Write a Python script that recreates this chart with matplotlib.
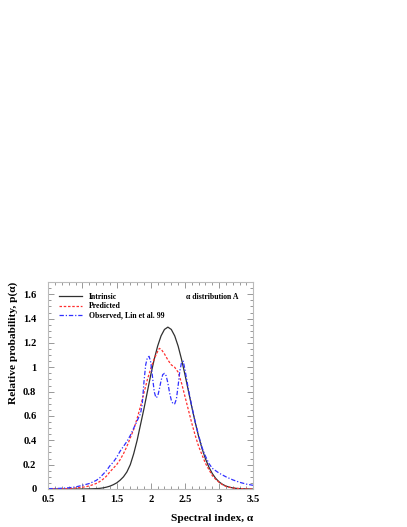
import matplotlib
matplotlib.use("Agg")
import matplotlib.pyplot as plt
from matplotlib.ticker import MultipleLocator, FixedLocator

# ---- data ----
x_intr = [0.5, 1.0, 1.1, 1.15, 1.2, 1.25, 1.3, 1.35, 1.4, 1.45, 1.5, 1.55, 1.6, 1.65, 1.7, 1.75,
          1.8, 1.85, 1.9, 1.95, 2.0, 2.05, 2.1, 2.15, 2.2, 2.25, 2.3, 2.35, 2.4, 2.45, 2.5,
          2.55, 2.6, 2.65, 2.7, 2.75, 2.8, 2.85, 2.9, 2.95, 3.0, 3.05, 3.1, 3.15, 3.2, 3.25,
          3.3, 3.35, 3.4, 3.45, 3.5]
y_intr = [0.0, 0.0, 0.001, 0.002, 0.003, 0.005, 0.009, 0.015, 0.023, 0.035, 0.05, 0.072, 0.10,
          0.14, 0.20, 0.29, 0.40, 0.53, 0.66, 0.80, 0.94, 1.065, 1.174, 1.258, 1.311, 1.33,
          1.311, 1.258, 1.174, 1.065, 0.94, 0.807, 0.673, 0.547, 0.432, 0.332, 0.248, 0.18,
          0.127, 0.087, 0.058, 0.038, 0.024, 0.015, 0.009, 0.005, 0.003, 0.002, 0.001, 0.0, 0.0]

x_pred = [0.5, 0.6, 0.7, 0.8, 0.9, 1.0, 1.1, 1.2, 1.25, 1.3, 1.35, 1.4, 1.45, 1.5, 1.55, 1.6,
          1.65, 1.7, 1.75, 1.8, 1.85, 1.9, 1.95, 2.0, 2.05, 2.1, 2.125, 2.15, 2.2, 2.25, 2.3,
          2.35, 2.4, 2.45, 2.5, 2.55, 2.6, 2.65, 2.7, 2.75, 2.8, 2.85, 2.9, 2.95, 3.0, 3.05,
          3.1, 3.15, 3.2, 3.3, 3.4, 3.5]
y_pred = [0.0, 0.001, 0.002, 0.004, 0.008, 0.014, 0.025, 0.045, 0.06, 0.08, 0.105, 0.14, 0.17,
          0.20, 0.24, 0.29, 0.35, 0.42, 0.49, 0.58, 0.68, 0.79, 0.90, 0.99, 1.07, 1.13, 1.155,
          1.15, 1.11, 1.06, 1.02, 1.0, 0.96, 0.87, 0.76, 0.65, 0.54, 0.44, 0.35, 0.28, 0.21,
          0.16, 0.11, 0.08, 0.055, 0.035, 0.022, 0.014, 0.008, 0.003, 0.001, 0.0]

x_obs = [0.5, 0.6, 0.7, 0.8, 0.9, 1.0, 1.1, 1.2, 1.25, 1.3, 1.35, 1.4, 1.45, 1.5, 1.55, 1.6,
         1.65, 1.7, 1.75, 1.8, 1.85, 1.875, 1.9, 1.925, 1.95, 1.975, 2.0, 2.025, 2.05, 2.075,
         2.1, 2.125, 2.15, 2.175, 2.2, 2.225, 2.25, 2.275, 2.3, 2.325, 2.35, 2.375, 2.4,
         2.425, 2.45, 2.475, 2.5, 2.525, 2.55, 2.6, 2.65, 2.7, 2.75, 2.8, 2.85, 2.9, 2.95,
         3.0, 3.1, 3.2, 3.3, 3.4, 3.5]
y_obs = [0.003, 0.004, 0.006, 0.01, 0.017, 0.03, 0.045, 0.07, 0.09, 0.12, 0.15, 0.19, 0.22,
         0.26, 0.31, 0.35, 0.39, 0.44, 0.50, 0.56, 0.62, 0.70, 0.88, 1.02, 1.08, 1.09, 1.04,
         0.92, 0.80, 0.75, 0.76, 0.82, 0.89, 0.94, 0.95, 0.93, 0.87, 0.79, 0.73, 0.70, 0.70,
         0.74, 0.85, 0.97, 1.04, 1.05, 0.98, 0.90, 0.82, 0.68, 0.55, 0.44, 0.34, 0.27, 0.21,
         0.17, 0.15, 0.13, 0.10, 0.075, 0.055, 0.04, 0.03]

labels = ["Intrinsic", "Predicted", "Observed, Lin et al. 99"]
x_ticks = [0.5, 1, 1.5, 2, 2.5, 3, 3.5]
x_ticklabels = ["0.5", "1", "1.5", "2", "2.5", "3", "3.5"]
y_ticks = [0, 0.2, 0.4, 0.6, 0.8, 1.0, 1.2, 1.4, 1.6]
y_ticklabels = ["0", "0.2", "0.4", "0.6", "0.8", "1", "1.2", "1.4", "1.6"]

plt.rcParams['font.family'] = ['Liberation Serif', 'DejaVu Serif']
plt.rcParams['font.weight'] = 'bold'

fig = plt.figure(figsize=(4.07, 5.27), dpi=100)
ax = fig.add_axes([48.3 / 407, 38 / 527, 205 / 407, 206.9 / 527])

ax.plot(x_intr, y_intr, color='#303030', lw=0.9, ls='-', label=labels[0])
ax.plot(x_pred, y_pred, color='#ff3030', lw=0.9, ls=(0, (2.0, 1.4)), label=labels[1])
ax.plot(x_obs, y_obs, color='#3030ff', lw=0.9, ls=(0, (3.5, 1.5, 1, 1.5)), label=labels[2])

ax.set_xlim(0.5, 3.5)
ax.set_ylim(0, 1.7)
ax.xaxis.set_major_locator(FixedLocator(x_ticks))
ax.set_xticklabels(x_ticklabels)
ax.yaxis.set_major_locator(FixedLocator(y_ticks))
ax.set_yticklabels(y_ticklabels)
ax.xaxis.set_minor_locator(MultipleLocator(0.1))
ax.yaxis.set_minor_locator(MultipleLocator(0.05))
ax.tick_params(which='both', direction='in', top=True, right=True, color='#888888',
               width=0.6, labelsize=7.6)
ax.tick_params(which='major', length=4.5)
ax.tick_params(which='minor', length=2.2)
ax.tick_params(axis='x', which='major', pad=4.5)
ax.tick_params(axis='y', which='major', pad=8.5)
for lab in ax.get_xticklabels() + ax.get_yticklabels():
    lab.set_fontweight('bold')
for s in ax.spines.values():
    s.set_color('#bbbbbb')
    s.set_linewidth(0.8)

ax.set_xlabel("Spectral index, α", fontsize=8.2, fontweight='bold', loc='right', labelpad=7)
ax.set_ylabel("Relative probability, p(α)", fontsize=8.2, fontweight='bold', loc='top', labelpad=4)

leg = ax.legend(loc='upper left', bbox_to_anchor=(0.035, 0.962), frameon=False,
                prop={'family': 'Liberation Serif', 'weight': 'bold', 'size': 5.6},
                handlelength=3.0, handletextpad=0.9, labelspacing=0.18, borderaxespad=0)

ax.text(0.67, 0.928, "α distribution A", transform=ax.transAxes, fontsize=5.6,
        fontweight='bold', ha='left', va='center')

fig.savefig("out.png", dpi=100)
